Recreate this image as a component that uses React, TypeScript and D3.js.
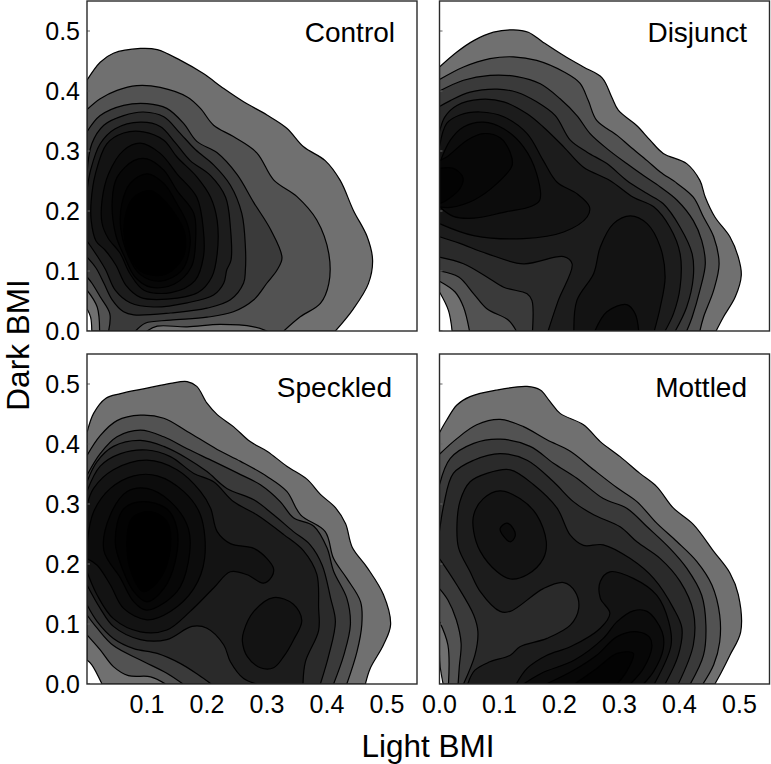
import React from "react";
import * as d3 from "d3";

type Seg = [number, number][];
type Shape = { level: number; segs: Seg[]; closed?: boolean };

// Contours: [Light BMI, Dark BMI] in thousandths.
const controlShapes: Shape[] = [
  { level: 1, segs: [[[0,418],[22,448],[44,463],[89,471],[117,469],[156,451],[194,429],[228,404],[261,382],[300,360],[333,338],[361,307],[397,284],[422,251],[444,201],[467,157],[476,118],[469,79],[444,37],[414,0]], [[8,0],[6,23],[0,37]]] },
  { level: 2, segs: [[[0,369],[22,387],[50,401],[83,409],[122,406],[167,390],[189,371],[211,343],[244,324],[283,297],[311,252],[350,224],[383,185],[403,129],[403,79],[389,46],[356,24],[328,0]], [[21,0],[17,40],[0,68]]] },
  { level: 1, segs: [[[100,0],[117,8],[167,7],[222,11],[278,7],[300,0]]] },
  { level: 3, segs: [[[0,332],[22,359],[61,376],[100,379],[133,371],[161,346],[183,316],[217,297],[250,261],[278,214],[306,169],[325,122],[317,102],[300,80],[278,52],[244,32],[200,23],[139,18],[97,13],[81,0]], [[36,0],[38,29],[22,57],[8,80],[0,90]]] },
  { level: 4, segs: [[[0,262],[8,312],[28,343],[61,359],[94,365],[128,357],[153,332],[181,302],[211,277],[239,243],[258,196],[264,140],[264,102],[261,80],[239,52],[200,38],[139,30],[78,27],[61,32],[42,52],[28,80],[15,105],[0,123]]] },
  { level: 5, segs: [[[0,234],[6,268],[22,312],[47,337],[89,348],[122,341],[147,314],[172,284],[206,259],[231,223],[239,173],[240,118],[233,102],[228,80],[211,60],[167,47],[111,40],[72,47],[47,68],[31,102],[17,125],[0,150]]] },
  { level: 6, closed: true, segs: [[[7,217],[14,262],[33,312],[61,330],[94,332],[128,318],[150,290],[183,257],[206,223],[217,184],[217,129],[208,90],[185,64],[133,53],[89,56],[65,76],[48,110],[30,135],[15,150],[7,184]]] },
  { level: 7, closed: true, segs: [[[25,217],[36,262],[61,301],[89,313],[122,296],[150,262],[183,223],[194,168],[194,123],[180,84],[140,64],[95,68],[72,95],[55,130],[35,155],[25,180]]] },
  { level: 8, closed: true, segs: [[[42,217],[50,256],[78,284],[100,287],[128,268],[150,234],[178,196],[181,151],[174,107],[145,78],[106,73],[80,90],[62,125],[48,160]]] },
  { level: 9, closed: true, segs: [[[58,212],[72,246],[100,262],[128,246],[150,212],[167,179],[172,146],[158,101],[122,83],[89,94],[69,125],[56,173]]] },
  { level: 10, closed: true, segs: [[[65,196],[78,223],[106,234],[128,218],[150,190],[163,162],[160,123],[132,95],[94,97],[72,123],[62,160]]] },
];

const disjunctShapes: Shape[] = [
  { level: 1, segs: [[[0,440],[29,465],[57,484],[90,498],[123,502],[148,498],[173,481],[207,459],[240,440],[271,422],[287,390],[298,368],[329,342],[351,318],[373,296],[412,279],[434,251],[443,223],[459,190],[484,157],[498,123],[503,93],[493,57],[473,23],[461,0]], [[21,0],[15,34],[0,65]]] },
  { level: 2, segs: [[[0,419],[40,440],[84,454],[123,457],[162,451],[207,432],[234,413],[248,384],[262,351],[296,326],[318,307],[346,284],[368,265],[396,246],[423,223],[440,190],[457,157],[466,112],[457,68],[440,23],[434,0]], [[50,0],[40,40],[26,65],[0,83]]] },
  { level: 3, segs: [[[0,400],[40,418],[84,426],[129,424],[168,412],[201,387],[229,359],[251,329],[279,304],[312,279],[340,259],[368,240],[396,218],[423,184],[437,151],[443,112],[434,68],[421,23],[412,0]], [[128,0],[115,18],[79,37],[57,62],[32,90],[0,100]]] },
  { level: 4, segs: [[[0,374],[18,384],[51,398],[96,403],[129,398],[162,382],[193,359],[218,318],[246,298],[279,279],[312,251],[346,229],[373,212],[401,173],[421,129],[423,90],[412,40],[393,0]], [[155,0],[154,51],[146,62],[107,73],[79,90],[40,112],[0,123]]] },
  { level: 5, segs: [[[0,332],[9,357],[29,376],[68,386],[107,382],[146,362],[173,340],[207,307],[240,273],[284,251],[323,223],[357,207],[384,173],[401,129],[401,73],[390,29],[376,0]], [[181,0],[198,51],[221,112],[207,124],[140,112],[79,129],[34,146],[0,157]]] },
  { level: 6, segs: [[[0,307],[12,346],[34,360],[68,365],[107,357],[146,329],[173,284],[196,248],[229,229],[250,207],[246,190],[207,165],[140,154],[57,159],[0,179]]] },
  { level: 6, segs: [[[224,0],[229,51],[257,96],[268,140],[290,179],[318,192],[346,179],[368,140],[376,90],[368,40],[358,0]]] },
  { level: 7, segs: [[[0,279],[18,318],[40,340],[73,348],[107,337],[140,307],[162,262],[167,218],[151,207],[112,199],[57,188],[23,191],[0,207]]] },
  { level: 7, segs: [[[259,0],[279,32],[312,44],[326,29],[332,0]]] },
  { level: 8, segs: [[[0,284],[12,290],[46,318],[73,329],[101,322],[118,297],[121,276],[96,246],[57,218],[18,206],[0,207]]] },
  { level: 9, segs: [[[0,271],[23,271],[39,256],[34,237],[12,218],[0,212]]] },
];

const speckledShapes: Shape[] = [
  { level: 1, segs: [[[0,419],[11,451],[31,476],[56,484],[100,493],[139,501],[167,504],[183,496],[200,468],[217,449],[244,429],[272,404],[300,388],[333,363],[367,341],[389,316],[414,294],[431,267],[442,228],[467,194],[494,149],[506,99],[494,65],[472,26],[464,0]], [[25,0],[8,32],[0,40]]] },
  { level: 2, segs: [[[0,381],[22,414],[50,439],[89,448],[128,443],[167,421],[217,391],[256,371],[300,346],[333,321],[356,282],[397,254],[411,209],[433,176],[456,137],[458,99],[450,54],[433,0]], [[131,0],[106,12],[69,14],[44,29],[22,57],[0,82]]] },
  { level: 3, segs: [[[0,348],[22,384],[50,412],[89,423],[128,412],[167,392],[211,371],[256,349],[289,332],[322,304],[344,277],[378,263],[400,227],[411,188],[433,143],[439,99],[428,48],[411,0]], [[160,0],[133,18],[89,40],[44,64],[17,93],[0,115]]] },
  { level: 4, segs: [[[0,337],[17,371],[44,396],[89,406],[128,396],[167,376],[200,354],[233,326],[278,307],[311,282],[344,254],[372,232],[392,198],[406,143],[414,104],[403,48],[389,0]], [[207,0],[186,15],[156,34],[117,51],[78,59],[44,76],[17,104],[0,132]]] },
  { level: 5, segs: [[[0,321],[22,363],[56,384],[100,390],[139,379],[178,351],[211,337],[244,304],[283,282],[328,249],[361,222],[383,183],[386,127],[386,89],[364,37],[360,0]], [[283,0],[261,9],[239,37],[228,65],[200,93],[175,96],[133,74],[89,74],[44,96],[22,126],[0,165]]] },
  { level: 6, segs: [[[0,298],[11,326],[44,357],[100,373],[150,357],[189,321],[206,293],[217,254],[239,234],[278,226],[300,209],[311,192],[308,179],[294,168],[267,182],[239,187],[211,160],[172,121],[133,90],[89,87],[44,109],[17,148],[0,187]]] },
  { level: 6, closed: true, segs: [[[261,87],[278,121],[311,144],[344,133],[358,106],[344,73],[328,46],[311,27],[289,27],[267,46],[259,71]]] },
  { level: 7, segs: [[[0,232],[11,287],[39,326],[78,347],[117,347],[161,321],[189,282],[196,209],[178,159],[139,121],[100,107],[61,126],[39,165],[17,198],[0,209]]] },
  { level: 8, closed: true, segs: [[[28,223],[39,282],[67,321],[100,326],[139,304],[169,259],[169,204],[150,154],[100,123],[78,137],[56,176]]] },
  { level: 9, closed: true, segs: [[[47,237],[61,292],[94,304],[133,292],[150,259],[147,204],[128,159],[100,137],[78,154],[61,187]]] },
  { level: 10, closed: true, segs: [[[67,221],[75,276],[106,287],[133,271],[139,227],[122,176],[94,154],[78,176]]] },
];

const mottledShapes: Shape[] = [
  { level: 1, segs: [[[0,419],[12,440],[29,465],[51,479],[96,490],[146,496],[168,490],[184,471],[201,451],[240,432],[268,404],[301,379],[334,351],[362,329],[390,293],[423,266],[457,221],[484,185],[498,149],[502,87],[484,48],[470,20],[459,0]], [[6,0],[1,30],[0,50]]] },
  { level: 2, segs: [[[0,383],[29,409],[62,432],[101,441],[140,429],[179,407],[218,388],[257,357],[296,327],[329,304],[362,268],[396,237],[429,204],[454,165],[467,115],[467,70],[457,32],[439,0]], [[15,0],[14,65],[0,104]]] },
  { level: 3, segs: [[[0,332],[18,376],[57,401],[101,408],[151,396],[190,368],[229,343],[273,309],[312,293],[346,262],[384,226],[412,193],[437,148],[444,98],[440,48],[418,0]], [[31,0],[33,29],[36,68],[28,107],[14,140],[0,159]]] },
  { level: 4, segs: [[[0,254],[7,298],[23,351],[57,373],[101,384],[146,373],[190,337],[223,304],[257,282],[301,262],[329,237],[368,209],[401,171],[423,121],[423,65],[398,0]], [[40,0],[59,48],[64,87],[57,115],[29,165],[0,209]]] },
  { level: 5, segs: [[[47,0],[59,23],[84,37],[118,48],[134,62],[179,76],[218,98],[232,126],[226,154],[207,169],[173,159],[118,121],[101,121],[68,154],[51,187],[32,226],[29,259],[34,304],[51,337],[79,351],[118,357],[157,332],[196,293],[218,248],[240,231],[273,232],[318,209],[357,176],[390,126],[404,93],[398,48],[376,0]]] },
  { level: 6, closed: true, segs: [[[57,254],[57,282],[73,309],[101,322],[134,309],[162,282],[178,237],[173,209],[146,182],[118,175],[96,187],[68,221]]] },
  { level: 6, segs: [[[128,0],[146,26],[179,48],[218,62],[268,93],[284,118],[268,143],[268,171],[284,187],[323,176],[362,148],[382,104],[386,65],[358,0]]] },
  { level: 7, closed: true, segs: [[[101,259],[112,268],[123,259],[126,246],[118,237],[107,246]]] },
  { level: 7, segs: [[[140,0],[170,18],[225,40],[273,76],[296,104],[323,122],[346,121],[371,87],[373,59],[357,21],[340,0]]] },
  { level: 8, segs: [[[178,0],[222,22],[262,48],[296,79],[330,87],[350,78],[354,62],[340,26],[318,0]]] },
  { level: 9, segs: [[[225,0],[262,26],[296,51],[323,51],[312,21],[296,0]]] },
];

const levelFills = ["#707070", "#525252", "#3a3a3a", "#2a2a2a", "#1c1c1c", "#131313", "#0c0c0c", "#070707", "#030303", "#000000"];
const xTicks = [0, 0.1, 0.2, 0.3, 0.4, 0.5];
const yTicks = [0, 0.1, 0.2, 0.3, 0.4, 0.5];
const panelNames = ["Control", "Disjunct", "Speckled", "Mottled"];
const panelShapes = [controlShapes, disjunctShapes, speckledShapes, mottledShapes];
const columnLefts = [87, 439.5];
const rowBottoms = [331, 684];
const labelAnchors: [number, number][] = [[395, 42], [747, 42], [392, 397], [747, 397]];
const DOMAIN = 0.55;
const SIZE = 330;
const font = "'Liberation Sans', Arial, sans-serif";

function shapePath(s: Shape, px: (v: number) => number, py: (v: number) => number) {
  const line = d3.line<[number, number]>().x((d) => px(d[0] / 1000)).y((d) => py(d[1] / 1000));
  if (s.closed) return line.curve(d3.curveCatmullRomClosed.alpha(0.5))(s.segs[0]) || "";
  line.curve(d3.curveCatmullRom.alpha(0.5));
  return s.segs.map((seg, i) => {
    const d = line(seg) || "";
    return i === 0 ? d : "L" + d.slice(1);
  }).join("") + "Z";
}

function Panel({ idx }: { idx: number }) {
  const col = idx % 2;
  const row = idx >> 1;
  const left = columnLefts[col];
  const bottom = rowBottoms[row];
  const px = d3.scaleLinear().domain([0, DOMAIN]).range([left, left + SIZE]);
  const py = d3.scaleLinear().domain([0, DOMAIN]).range([bottom, bottom - SIZE]);
  const shapes = panelShapes[idx];
  const clip = `clip-${idx}`;
  return (
    <g>
      <clipPath id={clip}><rect x={left} y={bottom - SIZE} width={SIZE} height={SIZE} /></clipPath>
      <rect x={left} y={bottom - SIZE} width={SIZE} height={SIZE} fill="#fff" />
      <g clipPath={`url(#${clip})`}>
        {shapes.map((s, i) => (
          <path key={i} d={shapePath(s, px, py)} fill={levelFills[s.level - 1]} stroke="#000" strokeWidth={1.2} strokeLinejoin="round" />
        ))}
        {yTicks.map((t) => (
          <line key={t} x1={left} x2={left + 3} y1={py(t)} y2={py(t)} stroke="#666" strokeWidth={1} />
        ))}
      </g>
      <rect x={left} y={bottom - SIZE} width={SIZE} height={SIZE} fill="none" stroke="#2a2a2a" strokeWidth={1.4} />
      <text x={labelAnchors[idx][0]} y={labelAnchors[idx][1]} textAnchor="end" fontFamily={font} fontSize={28} fill="#000">{panelNames[idx]}</text>
      {col === 0 && yTicks.map((t) => (
        <text key={t} x={80} y={py(t)} dy="0.36em" textAnchor="end" fontFamily={font} fontSize={25} fill="#000">{t.toFixed(1)}</text>
      ))}
      {row === 1 && xTicks.filter((t) => col === 1 || t > 0).map((t) => (
        <text key={t} x={px(t)} y={713} textAnchor="middle" fontFamily={font} fontSize={25} fill="#000">{t.toFixed(1)}</text>
      ))}
    </g>
  );
}

export default function App() {
  return (
    <svg width={771} height={764} style={{ position: "absolute", left: 0, top: 0, background: "#fff" }}>
      {panelNames.map((_, i) => <Panel key={i} idx={i} />)}
      <text x={428} y={757} textAnchor="middle" fontFamily={font} fontSize={31.5} fill="#000">Light BMI</text>
      <text transform="translate(28.5,345) rotate(-90)" textAnchor="middle" fontFamily={font} fontSize={31.5} fill="#000">Dark BMI</text>
    </svg>
  );
}
